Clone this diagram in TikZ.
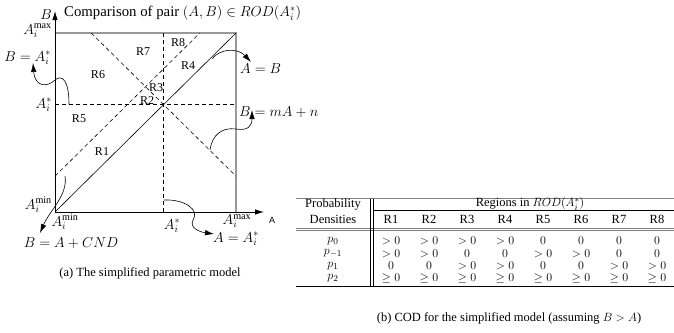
\documentclass[tikz,border=0pt]{standalone}
\usepackage{fontspec}
\setmainfont{Liberation Serif}
\newfontfamily\axisfont{Liberation Sans}
\usetikzlibrary{arrows.meta}
\begin{document}
\begin{tikzpicture}[x=1pt,y=-1pt,
  lab/.style={font=\fontsize{14.5}{16}\selectfont, inner sep=0pt},
  ttl/.style={font=\fontsize{14.8}{16}\selectfont, inner sep=0pt},
  reg/.style={font=\fontsize{12}{14}\selectfont, inner sep=0pt},
  tab/.style={font=\fontsize{12.5}{14}\selectfont, inner sep=0pt},
  captext/.style={font=\fontsize{12.5}{14}\selectfont, inner sep=0pt},
  dline/.style={dash pattern=on 4pt off 3pt, line width=0.6pt},
  gline/.style={draw=gray!80, line width=1.3pt},
  axis/.style={line width=0.8pt, -{Latex[length=9pt,width=5.5pt]}},
  curv/.style={line width=0.6pt, -{Latex[length=9pt,width=5.5pt]}},
  rulel/.style={line width=0.7pt}
]
\useasboundingbox (0,0) rectangle (674,332);

% ---------- plot frame ----------
\coordinate (O) at (55,212);
\coordinate (TL) at (55,33);
\coordinate (TR) at (236,33);
\coordinate (BR) at (236,212);
\coordinate (Ytip) at (55,11);
\coordinate (Xtip) at (264,212);

\draw[gline] (TL) -- (TR) -- (BR);
\draw[axis] (O) -- (Ytip);
\draw[axis] (O) -- (Xtip);

% dashed lines
\coordinate (Vt) at (163.6,33);
\coordinate (Vb) at (163.6,212);
\coordinate (Hl) at (55,104.6);
\coordinate (Hr) at (236,104.6);
\coordinate (Pl) at (55,176.2);
\coordinate (Pt) at (199.8,33);
\coordinate (Qt) at (91.2,33);
\coordinate (Qr) at (236,176.2);
\draw[dline] (Vt) -- (Vb);
\draw[dline] (Hl) -- (Hr);
\draw[dline] (Pl) -- (Pt);
\draw[dline] (Qt) -- (Qr);
\draw[line width=0.6pt] (O) -- (TR);

% region labels
\node[reg] (r7) at (143,52) {R7};
\node[reg] (r8) at (178,43) {R8};
\node[reg] (r6) at (98,75) {R6};
\node[reg] (r4) at (188,66) {R4};
\node[reg] (r3) at (156,88) {R3};
\node[reg] (r2) at (147,101) {R2};
\node[reg] (r5) at (79,119) {R5};
\node[reg] (r1) at (102,152) {R1};

% axis labels and title
\node[lab] (Blab) at (46,15) {$B$};
\node[font=\axisfont\fontsize{9}{11}\selectfont, inner sep=0pt] (Alab) at (272,220) {A};
\node[ttl, anchor=west] (title) at (64,13) {Comparison of pair $(A,B)\in ROD(A_i^*)$};

\node[lab, anchor=east] (ymax) at (52,31) {$A_i^{\max}$};
\node[lab, anchor=east] (eqB) at (51,58) {$B=A_i^*$};
\node[lab, anchor=east] (ystar) at (52,105) {$A_i^*$};
\node[lab, anchor=east] (ymin) at (52,205) {$A_i^{\min}$};
\node[lab] (xmin) at (65,222) {$A_i^{\min}$};
\node[lab] (xstar) at (172,226) {$A_i^*$};
\node[lab] (xmax) at (237,221) {$A_i^{\max}$};
\node[lab] (eqCND) at (71,243) {$B=A+CND$};
\node[lab] (eqAstar) at (236,239) {$A=A_i^*$};
\node[lab, anchor=west] (eqAB) at (240,69) {$A=B$};
\node[lab, anchor=west] (eqmA) at (239,112) {$B=mA+n$};

% curved arrows
\coordinate (s1) at (69,104.6);
\coordinate (e1) at (33,63);
\draw[curv] (s1) .. controls (69,80) and (62,74) .. (55,80) .. controls (48,87) and (35,88) .. (e1);
\coordinate (s2) at (212,59);
\coordinate (e2) at (251,62);
\draw[curv] (s2) .. controls (220,48) and (238,48) .. (e2);
\coordinate (s3) at (210,150);
\coordinate (e3) at (252,110);
\draw[curv] (s3) .. controls (212,135) and (222,127) .. (236,129) .. controls (248,131) and (252,126) .. (e3);
\coordinate (s4) at (65,176);
\coordinate (e4) at (40,233);
\draw[curv] (s4) .. controls (68,195) and (50,210) .. (e4);
\coordinate (s5) at (163.6,200);
\coordinate (e5) at (214,234);
\draw[curv] (s5) .. controls (185,199) and (200,210) .. (193,220) .. controls (189,228) and (200,232) .. (e5);

\node[captext] (capa) at (150,273) {(a) The simplified parametric model};

% ---------- table ----------
\coordinate (T1l) at (296,198.5); \coordinate (T1r) at (674,198.5);
\coordinate (T2l) at (374,210.5); \coordinate (T2r) at (674,210.5);
\coordinate (T3l) at (296,228); \coordinate (T3r) at (674,228);
\coordinate (T4l) at (296,230.5); \coordinate (T4r) at (674,230.5);
\coordinate (T5l) at (296,286); \coordinate (T5r) at (674,286);
\coordinate (V1t) at (370.5,198.5); \coordinate (V1b) at (370.5,286);
\coordinate (V2t) at (373.5,198.5); \coordinate (V2b) at (373.5,286);
\draw[rulel, draw=gray, line width=1.2pt] (T1l) -- (T1r);
\draw[rulel, line width=0.5pt] (T2l) -- (T2r);
\draw[rulel, draw=gray, line width=0.6pt] (T3l) -- (T3r);
\draw[rulel, draw=gray, line width=0.6pt] (T4l) -- (T4r);
\draw[rulel] (T5l) -- (T5r);
\draw[line width=0.5pt] (V1t) -- (V1b);
\draw[line width=0.5pt] (V2t) -- (V2b);

\node[tab] (hprob) at (333,205) {Probability};
\node[tab] (hdens) at (333,219.5) {Densities};
\node[tab] (hreg) at (530,204) {Regions in $ROD(A_i^*)$};
\foreach \i in {1,...,8}{
  \node[tab] (hr\i) at ({353+38*\i},219.5) {R\i};
}
\node[tab] (p0) at (333,241) {$p_0$};
\node[tab] (pm1) at (333,253.5) {$p_{-1}$};
\node[tab] (p1) at (333,266) {$p_1$};
\node[tab] (p2) at (333,278.5) {$p_2$};
\foreach \v [count=\i] in {{$>0$},{$>0$},{$>0$},{$>0$},{$0$},{$0$},{$0$},{$0$}}{
  \node[tab] (ca\i) at ({353+38*\i},241) {\v};
}
\foreach \v [count=\i] in {{$>0$},{$>0$},{$0$},{$0$},{$>0$},{$>0$},{$0$},{$0$}}{
  \node[tab] (cb\i) at ({353+38*\i},253.5) {\v};
}
\foreach \v [count=\i] in {{$0$},{$0$},{$>0$},{$>0$},{$0$},{$0$},{$>0$},{$>0$}}{
  \node[tab] (cc\i) at ({353+38*\i},266) {\v};
}
\foreach \i in {1,...,8}{
  \node[tab] (cd\i) at ({353+38*\i},278.5) {$\geq 0$};
}

\node[captext] (capb) at (509,318) {(b) COD for the simplified model (assuming $B>A$)};
\end{tikzpicture}
\end{document}
